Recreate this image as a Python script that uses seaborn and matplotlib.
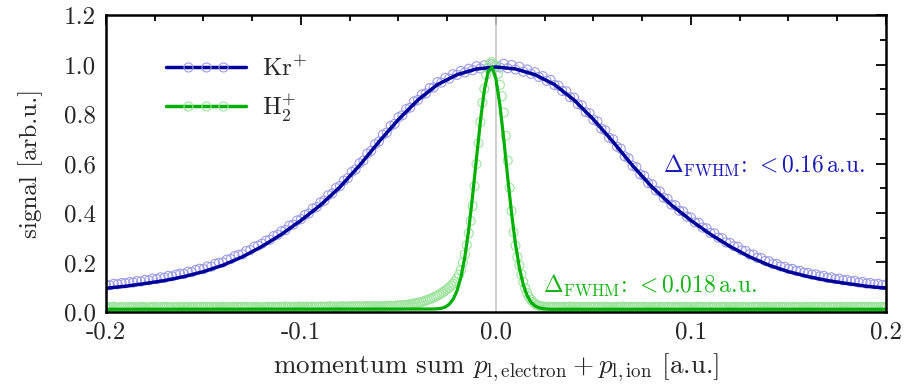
import numpy as np
import pandas as pd
import matplotlib
matplotlib.use("Agg")
import matplotlib.pyplot as plt
from matplotlib.lines import Line2D
from matplotlib.legend_handler import HandlerLine2D
from matplotlib.ticker import MultipleLocator
import seaborn as sns

# ---- measured spectra (bin width 0.002 a.u. for Kr+, 0.001 a.u. for H2+) ----
kr_x = np.round(np.linspace(-0.2, 0.2, 201), 3)
kr_signal = [
    0.110, 0.108, 0.114, 0.112, 0.117, 0.116, 0.121, 0.119, 0.125, 0.123,
    0.130, 0.128, 0.135, 0.133, 0.140, 0.138, 0.146, 0.144, 0.151, 0.155,
    0.154, 0.163, 0.161, 0.170, 0.175, 0.173, 0.184, 0.183, 0.195, 0.199,
    0.200, 0.212, 0.214, 0.226, 0.231, 0.233, 0.247, 0.250, 0.264, 0.268,
    0.276, 0.288, 0.292, 0.307, 0.312, 0.326, 0.331, 0.349, 0.353, 0.370,
    0.375, 0.392, 0.398, 0.418, 0.424, 0.443, 0.450, 0.472, 0.479, 0.501,
    0.509, 0.531, 0.541, 0.566, 0.576, 0.601, 0.612, 0.640, 0.651, 0.678,
    0.689, 0.716, 0.725, 0.752, 0.760, 0.787, 0.795, 0.820, 0.826, 0.851,
    0.857, 0.879, 0.883, 0.905, 0.907, 0.929, 0.927, 0.946, 0.943, 0.961,
    0.958, 0.974, 0.968, 0.983, 0.977, 0.993, 0.984, 0.997, 0.986, 1.002,
    0.995,
    0.988, 1.003, 0.985, 0.998, 0.980, 0.991, 0.971, 0.980, 0.962, 0.969,
    0.950, 0.953, 0.934, 0.938, 0.917, 0.915, 0.893, 0.892, 0.868, 0.866,
    0.840, 0.835, 0.808, 0.803, 0.777, 0.770, 0.741, 0.734, 0.704, 0.698,
    0.668, 0.660, 0.629, 0.621, 0.591, 0.585, 0.556, 0.550, 0.521, 0.516,
    0.491, 0.487, 0.462, 0.457, 0.434, 0.431, 0.409, 0.406, 0.385, 0.382,
    0.362, 0.360, 0.341, 0.338, 0.319, 0.318, 0.300, 0.298, 0.281, 0.279,
    0.266, 0.264, 0.249, 0.247, 0.233, 0.232, 0.219, 0.218, 0.206, 0.205,
    0.194, 0.194, 0.184, 0.183, 0.174, 0.174, 0.166, 0.166, 0.158, 0.158,
    0.151, 0.152, 0.144, 0.146, 0.138, 0.140, 0.133, 0.135, 0.128, 0.130,
    0.124, 0.126, 0.119, 0.121, 0.115, 0.117, 0.112, 0.114, 0.109, 0.111,
]

h2_x = np.round(np.linspace(-0.2, 0.2, 401), 3)
h2_signal = [
    # -0.200 ... -0.061
    0.018, 0.020, 0.017, 0.019, 0.021, 0.018, 0.016, 0.019, 0.020, 0.018,
    0.017, 0.019, 0.021, 0.018, 0.020, 0.017, 0.019, 0.018, 0.020, 0.021,
    0.018, 0.016, 0.019, 0.020, 0.018, 0.021, 0.019, 0.017, 0.018, 0.020,
    0.019, 0.021, 0.018, 0.017, 0.020, 0.019, 0.018, 0.021, 0.019, 0.017,
    0.020, 0.018, 0.019, 0.021, 0.017, 0.019, 0.020, 0.018, 0.019, 0.021,
    0.018, 0.020, 0.019, 0.017, 0.021, 0.018, 0.020, 0.019, 0.018, 0.020,
    0.021, 0.019, 0.018, 0.020, 0.019, 0.021, 0.018, 0.020, 0.019, 0.018,
    0.020, 0.018, 0.021, 0.019, 0.020, 0.018, 0.019, 0.021, 0.020, 0.019,
    0.018, 0.020, 0.019, 0.021, 0.020, 0.019, 0.021, 0.018, 0.020, 0.021,
    0.019, 0.020, 0.022, 0.019, 0.021, 0.020, 0.019, 0.021, 0.020, 0.022,
    0.020, 0.021, 0.019, 0.022, 0.020, 0.021, 0.022, 0.020, 0.021, 0.020,
    0.022, 0.021, 0.020, 0.022, 0.021, 0.023, 0.021, 0.022, 0.020, 0.022,
    0.021, 0.023, 0.022, 0.021, 0.022, 0.023, 0.021, 0.022, 0.023, 0.022,
    0.023, 0.021, 0.022, 0.024, 0.022, 0.023, 0.022, 0.024, 0.023, 0.022,
    # -0.060 ... 0.025
    0.022, 0.023, 0.022, 0.023, 0.024, 0.024, 0.025, 0.024, 0.025, 0.026,
    0.026, 0.027, 0.027, 0.028, 0.029, 0.030, 0.031, 0.032, 0.034, 0.035,
    0.037, 0.039, 0.041, 0.043, 0.046, 0.049, 0.052, 0.055, 0.059, 0.063,
    0.067, 0.071, 0.076, 0.081, 0.087, 0.093, 0.099, 0.106, 0.114, 0.124,
    0.135, 0.150, 0.170, 0.200, 0.232, 0.270, 0.318, 0.368, 0.428, 0.508,
    0.598, 0.682, 0.768, 0.846, 0.902, 0.958, 0.988, 1.004, 1.010, 0.998,
    0.992, 0.962, 0.918, 0.872, 0.806, 0.712, 0.612, 0.502, 0.408, 0.322,
    0.268, 0.222, 0.188, 0.152, 0.121, 0.096, 0.076, 0.060, 0.049, 0.040,
    0.033, 0.028, 0.025, 0.023, 0.022, 0.021,
    # 0.026 ... 0.200
    0.020, 0.021, 0.019, 0.020, 0.021, 0.019, 0.020, 0.018, 0.020, 0.021,
    0.019, 0.020, 0.022, 0.019, 0.021, 0.020, 0.018, 0.020, 0.021, 0.019,
    0.020, 0.019, 0.021, 0.018, 0.020, 0.021, 0.019, 0.020, 0.018, 0.021,
    0.019, 0.021, 0.020, 0.019, 0.018, 0.020, 0.021, 0.019, 0.020, 0.022,
    0.020, 0.018, 0.019, 0.021, 0.020, 0.019, 0.021, 0.020, 0.018, 0.019,
    0.021, 0.020, 0.019, 0.018, 0.020, 0.021, 0.019, 0.020, 0.021, 0.018,
    0.019, 0.020, 0.021, 0.019, 0.018, 0.020, 0.019, 0.021, 0.020, 0.019,
    0.018, 0.021, 0.020, 0.019, 0.020, 0.018, 0.019, 0.021, 0.020, 0.019,
    0.020, 0.019, 0.018, 0.020, 0.021, 0.019, 0.020, 0.018, 0.019, 0.021,
    0.020, 0.019, 0.021, 0.018, 0.020, 0.019, 0.020, 0.021, 0.019, 0.018,
    0.020, 0.021, 0.019, 0.020, 0.018, 0.019, 0.021, 0.020, 0.019, 0.020,
    0.018, 0.020, 0.021, 0.019, 0.020, 0.019, 0.018, 0.020, 0.021, 0.019,
    0.020, 0.019, 0.021, 0.020, 0.018, 0.019, 0.020, 0.021, 0.019, 0.020,
    0.019, 0.018, 0.020, 0.021, 0.019, 0.020, 0.019, 0.021, 0.018, 0.020,
    0.021, 0.019, 0.020, 0.018, 0.019, 0.021, 0.020, 0.019, 0.020, 0.018,
    0.020, 0.021, 0.019, 0.020, 0.019, 0.018, 0.021, 0.020, 0.019, 0.020,
    0.019, 0.020, 0.021, 0.018, 0.020, 0.019, 0.021, 0.020, 0.019, 0.020,
    0.020, 0.019, 0.021, 0.020, 0.019,
]

# ---- fitted curves ----
kr_fit_x = np.round(np.linspace(-0.2, 0.2, 41), 3)
kr_fit = [
    0.096, 0.104, 0.115, 0.127, 0.143, 0.163, 0.189, 0.223, 0.265, 0.314,
    0.370, 0.432, 0.505, 0.592, 0.688, 0.778, 0.857, 0.919, 0.959, 0.982,
    0.990,
    0.982, 0.959, 0.919, 0.857, 0.778, 0.688, 0.592, 0.505, 0.432, 0.370,
    0.314, 0.265, 0.223, 0.189, 0.163, 0.143, 0.127, 0.115, 0.104, 0.096,
]

h2_fit_x = [
    -0.200, -0.032, -0.030, -0.028, -0.026, -0.024, -0.022, -0.020, -0.018,
    -0.016, -0.014, -0.012, -0.010, -0.008, -0.006, -0.004, -0.002, 0.000,
    0.002, 0.004, 0.006, 0.008, 0.010, 0.012, 0.014, 0.016, 0.018, 0.020,
    0.022, 0.024, 0.026, 0.028, 0.200,
]
h2_fit = [
    0.011, 0.012, 0.013, 0.015, 0.020, 0.031, 0.051, 0.085, 0.140,
    0.221, 0.332, 0.469, 0.621, 0.770, 0.895, 0.972, 0.989, 0.941,
    0.837, 0.697, 0.544, 0.398, 0.274, 0.178, 0.110, 0.066, 0.039, 0.025,
    0.017, 0.014, 0.012, 0.011, 0.011,
]

series_labels = [r"Kr$^{+}$", r"H$_2^{+}$"]
fwhm_labels = [
    r"$\Delta_{\mathrm{FWHM}}$: $<0.16\,$a.u.",
    r"$\Delta_{\mathrm{FWHM}}$: $<0.018\,$a.u.",
]
x_ticks = [-0.2, -0.1, 0.0, 0.1, 0.2]
x_ticklabels = ["-0.2", "-0.1", "0.0", "0.1", "0.2"]
y_ticks = [0.0, 0.2, 0.4, 0.6, 0.8, 1.0, 1.2]
y_ticklabels = ["0.0", "0.2", "0.4", "0.6", "0.8", "1.0", "1.2"]

# ---- style ----
sns.set_style("white")
plt.rcParams["font.family"] = ["cmr10", "DejaVu Serif"]
plt.rcParams["mathtext.fontset"] = "cm"
plt.rcParams["axes.unicode_minus"] = False
plt.rcParams["axes.formatter.use_mathtext"] = True

FS = 18
kr_line_c = "#00009a"
kr_pt_c = "#9d9de6"
h2_line_c = "#00b000"
h2_pt_c = "#9ee39e"

fig = plt.figure(figsize=(9.05, 3.88), dpi=100)
ax = fig.add_axes([0.1171, 0.1959, 0.8619, 0.7654])

ax.axvline(0.0, color="#c8c8c8", lw=1.2, zorder=1)

kr_df = pd.DataFrame({"x": kr_x, "y": kr_signal})
h2_df = pd.DataFrame({"x": h2_x, "y": h2_signal})

sns.scatterplot(data=kr_df, x="x", y="y", ax=ax, marker="o", s=42,
                facecolor="none", edgecolor=kr_pt_c, linewidth=0.8,
                legend=False, zorder=2)
sns.scatterplot(data=h2_df, x="x", y="y", ax=ax, marker="o", s=42,
                facecolor="none", edgecolor=h2_pt_c, linewidth=0.8,
                legend=False, zorder=3)
sns.lineplot(x=kr_fit_x, y=kr_fit, ax=ax, color=kr_line_c, lw=2.5,
             zorder=4, legend=False)
sns.lineplot(x=h2_fit_x, y=h2_fit, ax=ax, color=h2_line_c, lw=2.3,
             zorder=5, legend=False)

ax.set_xlim(-0.2, 0.2)
ax.set_ylim(0.0, 1.2)
ax.set_xticks(x_ticks, x_ticklabels)
ax.set_yticks(y_ticks, y_ticklabels)
ax.xaxis.set_minor_locator(MultipleLocator(0.025))
ax.yaxis.set_minor_locator(MultipleLocator(0.1))
ax.tick_params(which="both", direction="in", top=True, right=True,
               labelsize=FS, width=1.3, color="black", pad=7)
ax.tick_params(which="major", length=7)
ax.tick_params(which="minor", length=4)
for sp in ax.spines.values():
    sp.set_linewidth(1.8)
    sp.set_color("black")
    sp.set_zorder(6)

ax.set_xlabel(r"momentum sum $p_{\mathrm{l,electron}} + p_{\mathrm{l,ion}}$ [a.u.]",
              fontsize=19.5, labelpad=6)
ax.set_ylabel("signal [arb.u.]", fontsize=FS, labelpad=15)

ax.text(0.189, 0.594, fwhm_labels[0], color="#1a1ab4", fontsize=17,
        ha="right", va="center")
ax.text(0.1338, 0.109, fwhm_labels[1], color="#17b417", fontsize=17,
        ha="right", va="center")

# legend: a full-length fit line with three open circles laid on top
kr_lh = Line2D([], [], color=kr_line_c, lw=2.5)
kr_mh = Line2D([], [], ls="none", marker="o", ms=6.5, mfc="none",
               mec=kr_pt_c, mew=0.8)
h2_lh = Line2D([], [], color=h2_line_c, lw=2.5)
h2_mh = Line2D([], [], ls="none", marker="o", ms=6.5, mfc="none",
               mec=h2_pt_c, mew=0.8)
hmap = {
    kr_lh: HandlerLine2D(numpoints=1),
    h2_lh: HandlerLine2D(numpoints=1),
    kr_mh: HandlerLine2D(numpoints=3, marker_pad=0.9),
    h2_mh: HandlerLine2D(numpoints=3, marker_pad=0.9),
}
ax.legend([(kr_lh, kr_mh), (h2_lh, h2_mh)], series_labels, handler_map=hmap,
          loc="upper left", bbox_to_anchor=(0.048, 0.935), frameon=False,
          fontsize=FS, handlelength=3.2, handletextpad=0.65,
          labelspacing=0.45)

fig.savefig("out.png", dpi=100)
